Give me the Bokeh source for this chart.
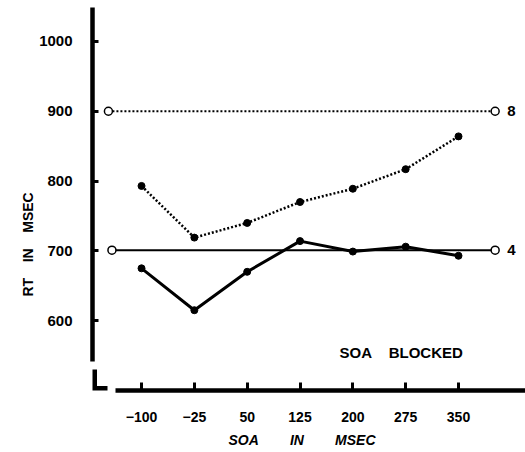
from bokeh.plotting import figure
from bokeh.models import Range1d, FixedTicker, Label, Title, ColumnDataSource
from bokeh.embed import file_html
from bokeh.resources import INLINE

# ---- data ----
SOA = [-100, -25, 50, 125, 200, 275, 350]
RT_SET8 = [793, 719, 740, 770, 789, 817, 864]
RT_SET4 = [675, 615, 670, 714, 699, 706, 693]
BLOCKED_X8 = [-147, 402]
BLOCKED_Y8 = [900, 900]
BLOCKED_X4 = [-142, 402]
BLOCKED_Y4 = [701, 701]
Y_TICKS = [600, 700, 800, 900, 1000]
X_TICK_LABELS = ["\u2212100", "\u221225", "50", "125", "200", "275", "350"]

# ---- layout constants ----
X_MIN, X_MAX = -169.6, 445.1
Y_MIN, Y_MAX = 500, 1048.6
Y_BREAK_TOP = 541     # upper part of y-axis ends here
Y_BREAK_LOW = 530     # the small "L" starts here
L_END_X = -148.3
X_AXIS_START = -137.3

FONT = "Liberation Sans"
NB = "\u00a0"

p = figure(width=525, height=452, output_backend="svg", toolbar_location=None,
           x_range=Range1d(X_MIN, X_MAX), y_range=Range1d(Y_MIN, Y_MAX),
           min_border_left=92, min_border_right=0, min_border_top=7,
           min_border_bottom=61)
p.outline_line_color = None
p.grid.visible = False
p.background_fill_color = "white"
p.border_fill_color = "white"

# y axis
ya = p.yaxis[0]
ya.bounds = (Y_BREAK_TOP, Y_MAX)
ya.ticker = FixedTicker(ticks=Y_TICKS)
ya.axis_line_width = 4.5
ya.axis_line_color = "black"
ya.major_tick_in = 6
ya.major_tick_out = 0
ya.major_tick_line_width = 3
ya.minor_tick_line_color = None
ya.major_label_standoff = 20
ya.major_label_text_font = FONT
ya.major_label_text_font_style = "bold"
ya.major_label_text_font_size = "15px"
ya.major_label_text_color = "black"

# x axis
xa = p.xaxis[0]
xa.bounds = (X_AXIS_START, X_MAX)
xa.ticker = FixedTicker(ticks=SOA)
xa.major_label_overrides = {s: lab for s, lab in zip(SOA, X_TICK_LABELS)}
xa.axis_line_width = 4.5
xa.axis_line_color = "black"
xa.major_tick_in = 8
xa.major_tick_out = 0
xa.major_tick_line_width = 3
xa.minor_tick_line_color = None
xa.major_label_standoff = 21
xa.major_label_text_font = FONT
xa.major_label_text_font_style = "bold"
xa.major_label_text_font_size = "14px"
xa.major_label_text_color = "black"

# axis titles (as side titles so they can be offset)
p.add_layout(Title(text="RT" + NB * 4 + "IN" + NB * 4 + "MSEC", align="left",
                   offset=94, standoff=2, text_font=FONT, text_font_style="bold",
                   text_font_size="14px", text_color="black"), "left")
p.add_layout(Title(text="SOA" + NB * 8 + "IN" + NB * 8 + "MSEC", align="left",
                   offset=136, standoff=10, text_font=FONT,
                   text_font_style="bold italic", text_font_size="14px",
                   text_color="black"), "below")

# axis break "L" (half of it is clipped by the frame edge, so draw it doubly wide)
p.line(x=[X_MIN, X_MIN, L_END_X], y=[Y_BREAK_LOW, Y_MIN, Y_MIN],
       line_color="black", line_width=9, line_join="miter")

# blocked reference lines
p.line(BLOCKED_X8, BLOCKED_Y8, line_color="black", line_width=2, line_dash="2 2")
p.line(BLOCKED_X4, BLOCKED_Y4, line_color="black", line_width=2)
p.scatter(BLOCKED_X8, BLOCKED_Y8, size=8, marker="circle", fill_color="white",
          line_color="black", line_width=1.5)
p.scatter(BLOCKED_X4, BLOCKED_Y4, size=8, marker="circle", fill_color="white",
          line_color="black", line_width=1.5)

# mixed SOA series
src = ColumnDataSource(dict(soa=SOA, rt8=RT_SET8, rt4=RT_SET4))
p.line("soa", "rt8", source=src, line_color="black", line_width=2.5, line_dash="2 2")
p.scatter("soa", "rt8", source=src, size=7, marker="circle", color="black")
p.line("soa", "rt4", source=src, line_color="black", line_width=3)
p.scatter("soa", "rt4", source=src, size=7, marker="circle", color="black")

# set-size labels
for xs, ys, t in ((BLOCKED_X8, BLOCKED_Y8, "8"), (BLOCKED_X4, BLOCKED_Y4, "4")):
    p.add_layout(Label(x=xs[-1], y=ys[-1], x_offset=12, text=t,
                       text_font=FONT, text_font_style="bold",
                       text_font_size="15px", text_align="left",
                       text_baseline="middle", text_color="black"))

p.add_layout(Label(x=181, y=554, text="SOA" + NB * 4 + "BLOCKED",
                   text_font=FONT, text_font_style="bold",
                   text_font_size="15px", text_align="left",
                   text_baseline="middle", text_color="black"))

open("out.html", "w").write(file_html(p, INLINE))
